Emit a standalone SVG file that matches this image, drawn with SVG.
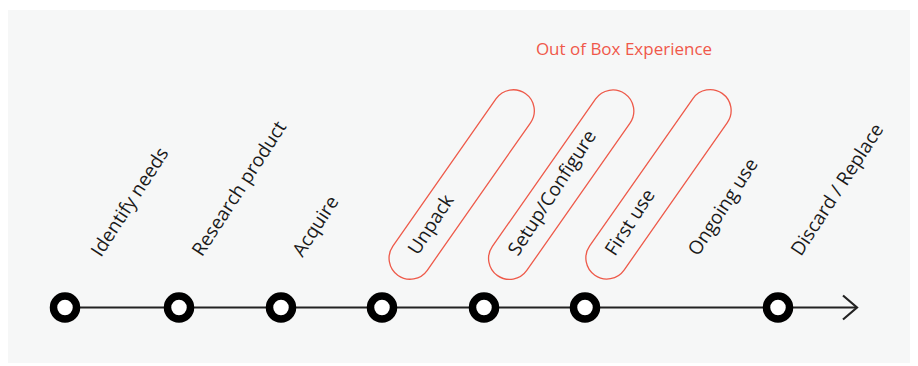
<svg xmlns="http://www.w3.org/2000/svg" width="918" height="366" viewBox="0 0 918 366">
  <defs>
    <style>
      .bg { fill: #f6f7f7; }
      .lbl { font-family: "Open Sans", "Noto Sans", "Liberation Sans", sans-serif; font-size: 19px; fill: #1a1a1a; }
      .title { font-family: "Open Sans", "Noto Sans", "Liberation Sans", sans-serif; font-size: 17px; fill: #f0584a; }
      .dot { fill: #ffffff; stroke: #000000; stroke-width: 7.5; }
      .pill { fill: none; stroke: #ee5a4a; stroke-width: 1.3; }
      .axis { fill: none; stroke: #222222; stroke-width: 2.2; }
    </style>
  </defs>
  <rect class="bg" x="8" y="10" width="902" height="353"/>
  <text class="title" x="624" y="55" text-anchor="middle">Out of Box Experience</text>
  <g id="connectors">
    <line class="axis" x1="65" y1="307.5" x2="857" y2="307.5"/>
    <polyline class="axis" points="843,295.5 857,307.5 843,319.5"/>
  </g>
  <g id="identify-needs">
    <circle class="dot" cx="65" cy="307.5" r="11.5"/>
    <text class="lbl" transform="translate(101,258) rotate(-57)">Identify needs</text>
  </g>
  <g id="research-product">
    <circle class="dot" cx="179" cy="307.5" r="11.5"/>
    <text class="lbl" transform="translate(202,257.5) rotate(-57)">Research product</text>
  </g>
  <g id="acquire">
    <circle class="dot" cx="281" cy="307.5" r="11.5"/>
    <text class="lbl" transform="translate(302.5,258) rotate(-57)">Acquire</text>
  </g>
  <g id="unpack">
    <rect class="pill" x="-111" y="-21" width="222" height="42" rx="21" transform="translate(461.7,184.5) rotate(-55)"/>
    <circle class="dot" cx="382" cy="307.5" r="11.5"/>
    <text class="lbl" transform="translate(418,256) rotate(-57)">Unpack</text>
  </g>
  <g id="setup-configure">
    <rect class="pill" x="-111" y="-21" width="222" height="42" rx="21" transform="translate(561.2,184.7) rotate(-55)"/>
    <circle class="dot" cx="484" cy="307.5" r="11.5"/>
    <text class="lbl" transform="translate(518,257) rotate(-57)">Setup/Configure</text>
  </g>
  <g id="first-use">
    <rect class="pill" x="-111" y="-21" width="222" height="42" rx="21" transform="translate(658.5,184.3) rotate(-55)"/>
    <circle class="dot" cx="585" cy="307.5" r="11.5"/>
    <text class="lbl" transform="translate(615,257) rotate(-57)">First use</text>
  </g>
  <g id="ongoing-use">
    <text class="lbl" transform="translate(698,257) rotate(-57)">Ongoing use</text>
  </g>
  <g id="discard-replace">
    <circle class="dot" cx="778" cy="307.5" r="11.5"/>
    <text class="lbl" transform="translate(801,257) rotate(-57)">Discard / Replace</text>
  </g>
</svg>
